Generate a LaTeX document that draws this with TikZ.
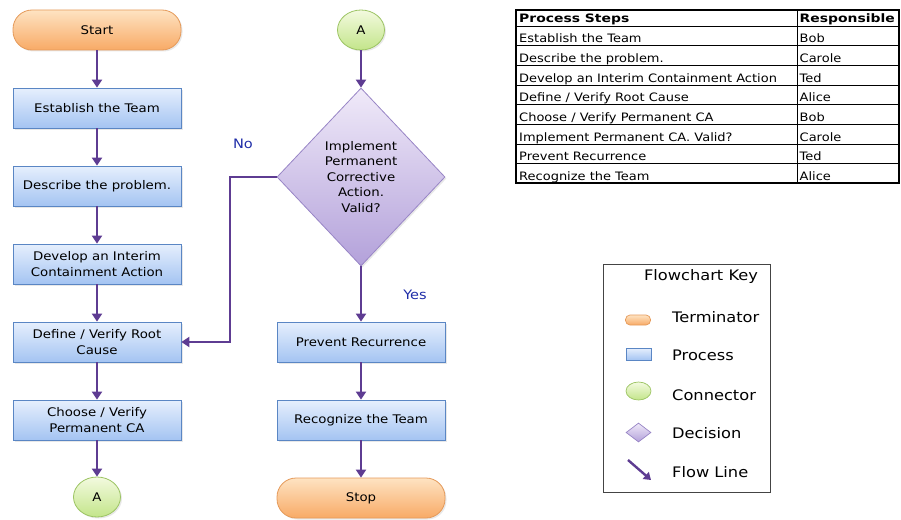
\documentclass[tikz,border=0pt]{standalone}
\usepackage{fontspec}
\setmainfont{DejaVu Sans}[FakeStretch=1.12]
\newfontfamily\headfont{DejaVu Sans}[FakeStretch=1.2]
\usetikzlibrary{shapes.geometric,arrows.meta,shadows}

\definecolor{termtop}{HTML}{FEE3C2}
\definecolor{termbot}{HTML}{F8AA66}
\definecolor{termline}{HTML}{E59A5A}
\definecolor{proctop}{HTML}{E6EFFD}
\definecolor{procbot}{HTML}{A4C4F2}
\definecolor{procline}{HTML}{5A86C4}
\definecolor{conntop}{HTML}{F3FADF}
\definecolor{connbot}{HTML}{C3E58A}
\definecolor{connline}{HTML}{9CC463}
\definecolor{dectop}{HTML}{F0EAF9}
\definecolor{decbot}{HTML}{B3A1DA}
\definecolor{decline}{HTML}{9885C6}
\definecolor{flowc}{HTML}{5E3C92}
\definecolor{labelblue}{HTML}{1F2DA8}
\definecolor{keyline}{HTML}{444444}

\begin{document}
\begin{tikzpicture}[x=1pt,y=-1pt,
  nodefont/.style={font=\fontsize{11.9}{15.5}\selectfont},
  softshadow/.style={drop shadow={opacity=0.18, shadow xshift=1.5pt, shadow yshift=-1.5pt}},
  term/.style={nodefont, rectangle, rounded corners=19pt, minimum width=168pt,
    minimum height=40pt, draw=termline, line width=0.8pt,
    top color=termtop, bottom color=termbot, softshadow},
  proc/.style={nodefont, rectangle, minimum width=168pt, minimum height=40pt,
    draw=procline, line width=0.8pt, top color=proctop, bottom color=procbot,
    align=center, inner sep=2pt, softshadow},
  conn/.style={nodefont, ellipse, minimum width=47pt, minimum height=40pt,
    inner sep=0pt, draw=connline, line width=0.8pt,
    top color=conntop, bottom color=connbot, softshadow},
  dec/.style={nodefont, diamond, minimum width=168pt, minimum height=178pt,
    inner sep=0pt, align=center, draw=decline, line width=0.8pt,
    top color=dectop, bottom color=decbot, softshadow},
  flow/.style={draw=flowc, line width=2.6pt,
    -{Triangle[width=10pt,length=8pt]}},
  yesno/.style={font=\fontsize{13}{15}\selectfont, text=labelblue},
  cell/.style={font=\fontsize{11.6}{13}\selectfont, anchor=base west, inner sep=0pt},
  headcell/.style={font=\headfont\fontsize{11.6}{13}\selectfont\bfseries,
    anchor=base west, inner sep=0pt},
  keytext/.style={font=\fontsize{14.5}{17}\selectfont, anchor=base west, inner sep=0pt}
]
\useasboundingbox (0,0) rectangle (901,519);

% left column
\node[term] (start) at (97,30) {Start};
\node[proc] (team)  at (97,108) {Establish the Team};
\node[proc] (desc)  at (97,186) {Describe the problem.};
\node[proc] (icab)  at (97,264) {Develop an Interim\\Containment Action};
\node[proc] (root)  at (97,342) {Define / Verify Root\\Cause};
\node[proc] (pca)   at (97,420) {Choose / Verify\\Permanent CA};
\node[conn] (aout)  at (97,497) {A};

% right column
\node[conn] (ain)   at (361,30) {A};
\node[dec]  (valid) at (361,177) {Implement\\Permanent\\Corrective\\Action.\\Valid?};
\node[proc] (prev)  at (361,342) {Prevent Recurrence};
\node[proc] (recog) at (361,420) {Recognize the Team};
\node[term] (stop)  at (361,498) {Stop};

\coordinate (nocorner1) at (230,177);
\coordinate (nocorner2) at (230,342);

\draw[flow] (start) -- (team);
\draw[flow] (team) -- (desc);
\draw[flow] (desc) -- (icab);
\draw[flow] (icab) -- (root);
\draw[flow] (root) -- (pca);
\draw[flow] (pca) -- (aout);
\draw[flow] (ain) -- (valid);
\draw[flow] (valid) -- (prev);
\draw[flow] (prev) -- (recog);
\draw[flow] (recog) -- (stop);
\draw[flow] (valid.west) -- (nocorner1) -- (nocorner2) -- (root.east);

\node[yesno] (nolbl)  at (243,144) {No};
\node[yesno] (yeslbl) at (415,295) {Yes};

% responsibility table
\def\rowh{19.66}
\draw[line width=0.8pt] (516,26) -- (899,26);
\foreach \i in {1,...,7}
  \draw[line width=0.8pt] (516,26+\i*\rowh) -- (899,26+\i*\rowh);
\draw[line width=0.8pt] (797,10) -- (797,183.3);
\draw[line width=1.8pt] (516,10) rectangle (899,183.3);
\node[headcell] (hsteps) at (519,22.5) {Process Steps};
\node[headcell] (hresp) at (799.5,22.5) {Responsible};
\foreach \s/\p [count=\i] in {{Establish the Team}/Bob, {Describe the problem.}/Carole,
    {Develop an Interim Containment Action}/Ted, {Define / Verify Root Cause}/Alice,
    {Choose / Verify Permanent CA}/Bob, {Implement Permanent CA. Valid?}/Carole,
    {Prevent Recurrence}/Ted, {Recognize the Team}/Alice} {
  \node[cell] (step\i) at (519,26+\i*\rowh-2.8) {\s};
  \node[cell] (resp\i) at (799.5,26+\i*\rowh-2.8) {\p};
}

% flowchart key
\draw[keyline, line width=0.8pt] (603.5,264) rectangle (770.5,492);
\node[keytext, anchor=base] (keytitle) at (701,280) {Flowchart Key};
\node[draw=termline, line width=0.7pt, top color=termtop, bottom color=termbot,
  rectangle, rounded corners=4.5pt, minimum width=25pt, minimum height=10pt,
  inner sep=0pt] (kterm) at (638,320) {};
\node[draw=procline, line width=0.7pt, top color=proctop, bottom color=procbot,
  rectangle, minimum width=25pt, minimum height=12pt, inner sep=0pt] (kproc) at (638.5,354) {};
\node[draw=connline, line width=0.7pt, top color=conntop, bottom color=connbot,
  ellipse, minimum width=25pt, minimum height=18pt, inner sep=0pt] (kconn) at (638.5,391) {};
\node[draw=decline, line width=0.7pt, top color=dectop, bottom color=decbot,
  diamond, minimum width=25pt, minimum height=19pt, inner sep=0pt] (kdec) at (638.5,432.5) {};
\coordinate (kflowa) at (628,460);
\coordinate (kflowb) at (651,480);
\draw[draw=flowc, line width=2.4pt, -{Triangle[width=9pt,length=7pt]}] (kflowa) -- (kflowb);
\node[keytext] (tterm) at (672,322) {Terminator};
\node[keytext] (tproc) at (672,360) {Process};
\node[keytext] (tconn) at (672,400) {Connector};
\node[keytext] (tdec)  at (672,438) {Decision};
\node[keytext] (tflow) at (672,477) {Flow Line};
\end{tikzpicture}
\end{document}
